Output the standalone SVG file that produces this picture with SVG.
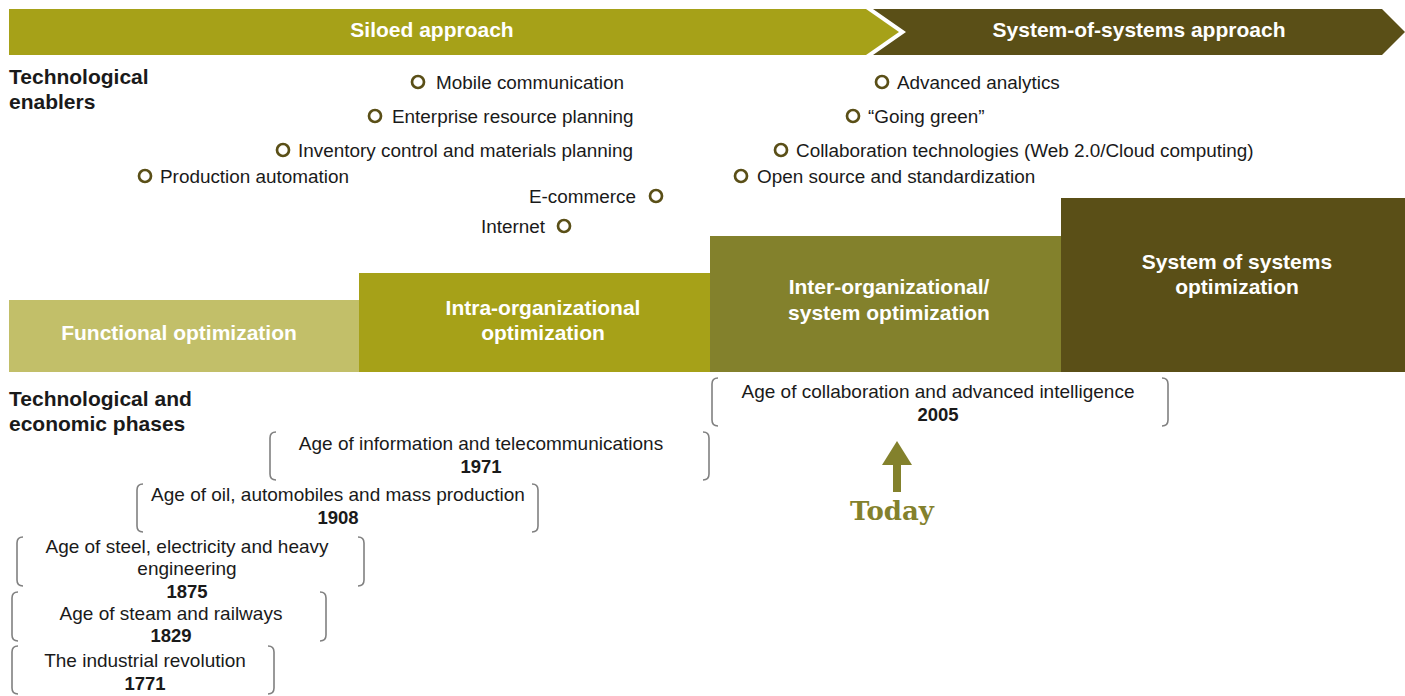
<svg xmlns="http://www.w3.org/2000/svg" width="1405" height="696" viewBox="0 0 1405 696">
<style>
text{font-family:"Liberation Sans",Arial,sans-serif;fill:#1a1a1a}
.lbl{font-size:18.9px}
.yr{font-size:18.5px;font-weight:bold;text-anchor:middle}
.ph{font-size:19px;text-anchor:middle}
.hd{font-size:21px;font-weight:bold}
.wt{font-size:21px;font-weight:bold;fill:#ffffff;text-anchor:middle}
.dot{fill:none;stroke:#5a4f17;stroke-width:2.7}
.br{fill:none;stroke:#808080;stroke-width:1.6}
.today{font-family:"DejaVu Serif",serif;font-weight:bold;font-size:26px;fill:#83812c;text-anchor:middle}
</style>
<g id="banner">
<polygon points="9,9 866,9 899,32 866,55 9,55" fill="#a6a118"/>
<polygon points="873,9 1382,9 1405,32 1382,55 873,55 906,32" fill="#5a4f17"/>
<text class="wt" x="432" y="37">Siloed approach</text>
<text class="wt" x="1139" y="37">System-of-systems approach</text>
</g>
<g id="headers">
<text class="hd" x="9" y="84">Technological</text>
<text class="hd" x="9" y="109">enablers</text>
<text class="hd" x="9" y="406">Technological and</text>
<text class="hd" x="9" y="431">economic phases</text>
</g>
<g id="enablers">
<g id="e-mobile"><circle class="dot" cx="418" cy="82" r="6"/><text class="lbl" x="436" y="89">Mobile communication</text></g>
<g id="e-erp"><circle class="dot" cx="375" cy="116" r="6"/><text class="lbl" x="392" y="123">Enterprise resource planning</text></g>
<g id="e-inventory"><circle class="dot" cx="283" cy="150" r="6"/><text class="lbl" x="298" y="157">Inventory control and materials planning</text></g>
<g id="e-production"><circle class="dot" cx="145" cy="176" r="6"/><text class="lbl" x="160" y="183">Production automation</text></g>
<g id="e-ecommerce"><circle class="dot" cx="656" cy="196" r="6"/><text class="lbl" x="636" y="203" text-anchor="end">E-commerce</text></g>
<g id="e-internet"><circle class="dot" cx="564" cy="226" r="6"/><text class="lbl" x="545" y="233" text-anchor="end">Internet</text></g>
<g id="e-analytics"><circle class="dot" cx="882" cy="82" r="6"/><text class="lbl" x="897" y="89">Advanced analytics</text></g>
<g id="e-green"><circle class="dot" cx="853" cy="116" r="6"/><text class="lbl" x="868" y="123">“Going green”</text></g>
<g id="e-collab"><circle class="dot" cx="781" cy="150" r="6"/><text class="lbl" x="796" y="157">Collaboration technologies (Web 2.0/Cloud computing)</text></g>
<g id="e-open"><circle class="dot" cx="741" cy="176" r="6"/><text class="lbl" x="757" y="183">Open source and standardization</text></g>
</g>
<g id="steps">
<g id="s-functional"><rect x="9" y="300" width="350" height="72" fill="#c2bf69"/><text class="wt" x="179" y="340">Functional optimization</text></g>
<g id="s-intra"><rect x="359" y="273" width="351" height="99" fill="#a6a118"/><text class="wt" x="543" y="315">Intra-organizational</text><text class="wt" x="543" y="340">optimization</text></g>
<g id="s-inter"><rect x="710" y="236" width="351" height="136" fill="#83812c"/><text class="wt" x="889" y="294">Inter-organizational/</text><text class="wt" x="889" y="320">system optimization</text></g>
<g id="s-sos"><rect x="1061" y="198" width="344" height="174" fill="#5a4f17"/><text class="wt" x="1237" y="269">System of systems</text><text class="wt" x="1237" y="294">optimization</text></g>
</g>
<g id="phases">
<g id="p-2005">
<path class="br" d="M718,378 Q712,378 712,384 L712,420 Q712,426 718,426"/>
<path class="br" d="M1162,378 Q1168,378 1168,384 L1168,420 Q1168,426 1162,426"/>
<text class="ph" x="938" y="398">Age of collaboration and advanced intelligence</text>
<text class="yr" x="938" y="421">2005</text>
</g>
<g id="p-1971">
<path class="br" d="M276,432 Q270,432 270,438 L270,474 Q270,480 276,480"/>
<path class="br" d="M703,432 Q709,432 709,438 L709,474 Q709,480 703,480"/>
<text class="ph" x="481" y="450">Age of information and telecommunications</text>
<text class="yr" x="481" y="473">1971</text>
</g>
<g id="p-1908">
<path class="br" d="M143,484 Q137,484 137,490 L137,526 Q137,532 143,532"/>
<path class="br" d="M532,484 Q538,484 538,490 L538,526 Q538,532 532,532"/>
<text class="ph" x="338" y="501">Age of oil, automobiles and mass production</text>
<text class="yr" x="338" y="524">1908</text>
</g>
<g id="p-1875">
<path class="br" d="M23,537 Q17,537 17,543 L17,580 Q17,586 23,586"/>
<path class="br" d="M358,537 Q364,537 364,543 L364,580 Q364,586 358,586"/>
<text class="ph" x="187" y="553">Age of steel, electricity and heavy</text>
<text class="ph" x="187" y="575">engineering</text>
<text class="yr" x="187" y="598">1875</text>
</g>
<g id="p-1829">
<path class="br" d="M18,592 Q12,592 12,598 L12,635 Q12,641 18,641"/>
<path class="br" d="M320,592 Q326,592 326,598 L326,635 Q326,641 320,641"/>
<text class="ph" x="171" y="620">Age of steam and railways</text>
<text class="yr" x="171" y="642">1829</text>
</g>
<g id="p-1771">
<path class="br" d="M18,646 Q12,646 12,652 L12,688 Q12,694 18,694"/>
<path class="br" d="M268,646 Q274,646 274,652 L274,688 Q274,694 268,694"/>
<text class="ph" x="145" y="667">The industrial revolution</text>
<text class="yr" x="145" y="690">1771</text>
</g>
</g>
<g id="today">
<polygon points="897,441 912,465 901,465 901,492 893,492 893,465 882,465" fill="#83812c"/>
<text class="today" x="892" y="520">Today</text>
</g>
</svg>
